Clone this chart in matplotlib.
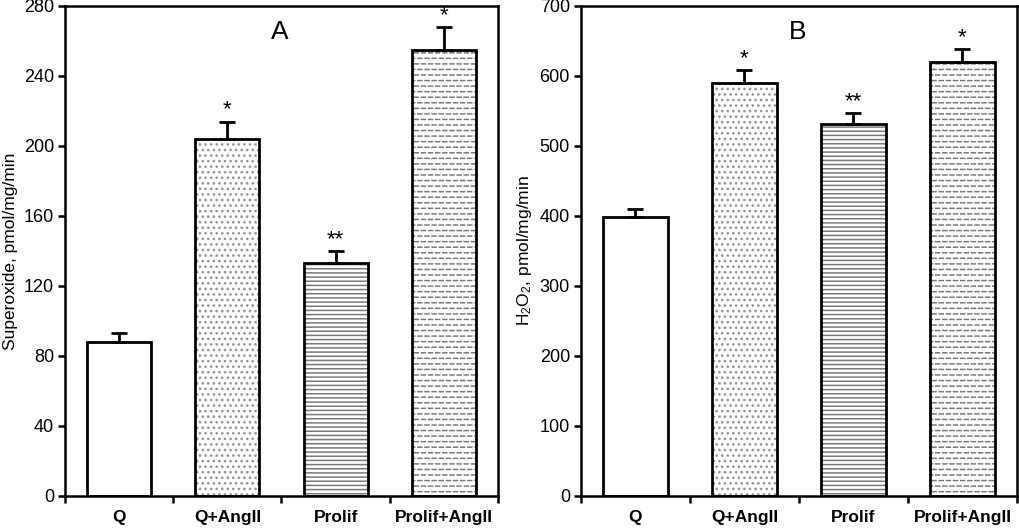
import warnings
import numpy as np
import matplotlib
matplotlib.use('Agg')
import matplotlib.pyplot as plt
import matplotlib.hatch as mhatch
from matplotlib.path import Path

warnings.filterwarnings('ignore')

###############################################################################
# Data
###############################################################################
categories = ['Q', 'Q+AngII', 'Prolif', 'Prolif+AngII']
superoxide = [88, 204, 133, 255]
superoxide_err = [5, 10, 7, 13]
superoxide_marks = ['', '*', '**', '*']
h2o2 = [398, 590, 531, 620]
h2o2_err = [12, 19, 16, 19]
h2o2_marks = ['', '*', '**', '*']
hatches = ['', '...', '----', '__']
hatch_colors = ['#7a7a7a', '#959595', '#7a7a7a', '#7a7a7a']


###############################################################################
# Dashed hatch (not in matplotlib by default)
###############################################################################
class DashHatch(mhatch.HatchPatternBase):
    def __init__(self, hatch, density):
        self.num_rows = int(hatch.count('_') * density * 1.5)
        self.num_dash = 14
        self.num_vertices = self.num_rows * self.num_dash * 2

    def set_vertices_and_codes(self, vertices, codes):
        ys = (np.arange(self.num_rows) + 0.5) / self.num_rows
        step = 1.0 / self.num_dash
        k = 0
        for r, y in enumerate(ys):
            off = 0.5 * step * (r % 2)
            for d in range(self.num_dash):
                x0 = d * step + off
                x1 = min(x0 + step * 0.55, 1.0)
                vertices[k] = (x0, y)
                vertices[k + 1] = (x1, y)
                codes[k] = Path.MOVETO
                codes[k + 1] = Path.LINETO
                k += 2


mhatch._hatch_types.append(DashHatch)

plt.rcParams['font.family'] = ['Liberation Sans', 'DejaVu Sans']
plt.rcParams['mathtext.default'] = 'regular'
plt.rcParams['hatch.linewidth'] = 1.1

###############################################################################
# Figure
###############################################################################
fig = plt.figure(figsize=(10.2, 5.29), dpi=100)
axA = fig.add_axes([65 / 1020, 1 - 496 / 529, 433 / 1020, 490 / 529])
axB = fig.add_axes([581 / 1020, 1 - 496 / 529, 436 / 1020, 490 / 529])


def panel(ax, vals, errs, marks, ymax, step, ylabel, letter):
    x = np.arange(len(categories))
    for i in range(len(vals)):
        ax.bar(x[i], vals[i], width=0.59, color='white',
               edgecolor=hatch_colors[i], linewidth=0,
               hatch=hatches[i] or None, zorder=2)
    ax.bar(x, vals, width=0.59, color='none', edgecolor='black',
           linewidth=2, zorder=3)
    ax.errorbar(x, vals, yerr=[np.zeros(len(vals)), errs], fmt='none',
                ecolor='black', elinewidth=2, capsize=6, capthick=2,
                zorder=4)
    for i in range(len(vals)):
        if marks[i]:
            ax.text(x[i], vals[i] + errs[i] + ymax * 0.002, marks[i],
                    ha='center', va='bottom', fontsize=16)
    ax.set_xlim(-0.5, len(categories) - 0.5)
    ax.set_ylim(0, ymax)
    ax.set_yticks(np.arange(0, ymax + 1, step))
    ax.set_xticks(np.arange(-0.5, len(categories)))
    ax.set_xticklabels([])
    ax.set_xticks(x, minor=True)
    ax.set_xticklabels(categories, minor=True, fontweight='bold',
                       fontsize=12.5)
    ax.tick_params(axis='x', which='minor', length=0, pad=10)
    ax.tick_params(axis='x', which='major', direction='out', length=5,
                   width=1.8)
    ax.tick_params(axis='y', direction='out', length=5, width=1.8,
                   labelsize=13, pad=3)
    for s in ax.spines.values():
        s.set_linewidth(1.8)
    ax.set_ylabel(ylabel, fontsize=12.5, labelpad=4)
    ax.text(0.497, 0.947, letter, transform=ax.transAxes, ha='center',
            va='center', fontsize=19)


panel(axA, superoxide, superoxide_err, superoxide_marks, 280, 40,
      'Superoxide, pmol/mg/min', 'A')
panel(axB, h2o2, h2o2_err, h2o2_marks, 700, 100,
      r'H$_2$O$_2$, pmol/mg/min', 'B')

fig.savefig('out.png', dpi=100)
